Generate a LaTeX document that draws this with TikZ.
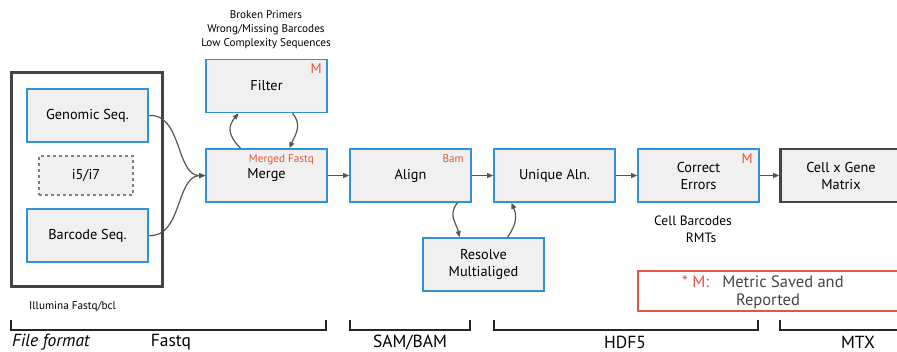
\documentclass[tikz,border=0pt]{standalone}
\usepackage{fontspec}
\setmainfont{PT Sans}
\usetikzlibrary{arrows.meta}
\definecolor{boxblue}{HTML}{2F93D6}
\definecolor{boxfill}{HTML}{F0F0F0}
\definecolor{mred}{HTML}{E8553E}
\definecolor{dk}{HTML}{444444}
\definecolor{arr}{HTML}{555555}
\begin{document}
\begin{tikzpicture}[x=1pt,y=-1pt,
  proc/.style={draw=boxblue, line width=1.6pt, fill=boxfill, minimum width=121pt, minimum height=53pt, inner sep=0pt, font=\fontsize{14.3}{17}\selectfont, align=center},
  final/.style={proc, draw=dk, line width=2.6pt},
  dashbox/.style={draw=gray, dashed, line width=1.1pt, fill=boxfill, minimum width=94pt, minimum height=39pt, inner sep=0pt, font=\fontsize{14.3}{16}\selectfont},
  conn/.style={draw=arr, line width=1.2pt, -{Triangle[length=6pt,width=5pt]}},
  redtag/.style={text=mred, inner sep=0pt, font=\fontsize{11.2}{13}\selectfont},
  mtag/.style={text=mred, inner sep=0pt, font=\fontsize{14}{15}\selectfont},
  note/.style={inner sep=0pt, align=center, font=\fontsize{11.2}{14}\selectfont},
  fmt/.style={inner sep=0pt, font=\fontsize{17.5}{20}\selectfont},
  brk/.style={draw=black!85, line width=2.6pt}
]
\useasboundingbox (0,0) rectangle (897,352);
\clip (0,0) rectangle (897,352);

% outer input box
\node[draw=dk, line width=3pt, minimum width=151pt, minimum height=214pt, inner sep=0pt] (outer) at (86.5,180) {};
\node[proc] (genomic) at (87.5,115.5) {Genomic Seq.};
\node[dashbox] (idx) at (86,175.5) {i5/i7};
\node[proc] (barcode) at (87.5,235.5) {Barcode Seq.};
\node[note, anchor=west] (illumina) at (29,307) {Illumina Fastq/bcl};

% processing boxes
\node[proc] (filter) at (266.5,86) {Filter};
\node[mtag, anchor=north east] (mfilter) at (322,64) {M};
\node[note] (filtnote) at (266,30) {Broken Primers\\Wrong/Missing Barcodes\\Low Complexity Sequences};

\node[proc] (merge) at (266.5,175.5) {Merge};
\node[redtag, anchor=north east] (mfastq) at (314,154) {Merged Fastq};

\node[proc] (align) at (410.5,175.5) {Align};
\node[redtag, anchor=north east] (bam) at (464,154) {Bam};

\node[proc] (unique) at (554.5,175.5) {Unique Aln.};
\node[proc] (resolve) at (483.5,264.5) {Resolve\\Multialiged};

\node[proc] (correct) at (698.5,175.5) {Correct\\Errors};
\node[mtag, anchor=north east] (mcorrect) at (753,154) {M};
\node[note, font=\fontsize{13.5}{17}\selectfont] (cbnote) at (693,229.5) {Cell Barcodes\\\hspace*{1.2em}RMTs};

\node[final] (matrix) at (841,175.5) {Cell x Gene\\Matrix};

% legend
\node[draw=mred, line width=1.2pt, minimum width=280pt, minimum height=40pt, inner sep=0pt] (legend) at (778,291) {};
\node[inner sep=0pt, anchor=west, font=\fontsize{16.5}{19}\selectfont] (legm) at (682,282) {\textcolor{mred}{* M:}\hspace{0.8em}\textcolor{dk}{Metric Saved and}};
\node[inner sep=0pt, font=\fontsize{16.5}{19}\selectfont, text=dk] (legr) at (768,301) {Reported};

% connectors
\draw[conn] (genomic.east) .. controls (182,113) and (176,176) .. (merge.west);
\draw[conn] (barcode.east) .. controls (182,238) and (176,176) .. (merge.west);
\draw[conn] (merge.east) -- (align.west);
\draw[conn] (align.east) -- (unique.west);
\draw[conn] (unique.east) -- (correct.west);
\draw[conn] (correct.east) -- (matrix.west);
\draw[conn] ([xshift=-26pt]merge.north) .. controls +(-14,-14) and +(-10,12) .. ([xshift=-28pt]filter.south);
\draw[conn] ([xshift=26pt]filter.south) .. controls +(10,12) and +(6,-14) .. ([xshift=23pt]merge.north);
\draw[conn] ([xshift=47pt]align.south) .. controls +(-10,12) and +(-3,-14) .. ([xshift=-24pt]resolve.north);
\draw[conn] ([xshift=24pt]resolve.north) .. controls +(10,-14) and +(5,12) .. ([xshift=-43pt]unique.south);

% format brackets
\draw[brk] (11,320) -- (11,330) -- (326,330) -- (326,320);
\draw[brk] (350,320) -- (350,330) -- (470,330) -- (470,320);
\draw[brk] (494,320) -- (494,330) -- (758,330) -- (758,320);
\draw[brk] (780,320) -- (780,330) -- (905,330) -- (905,320);
\node[fmt, anchor=west, font=\fontsize{17.5}{20}\selectfont\itshape] (ff) at (12,342) {File format};
\node[fmt] (fastq) at (171,342) {Fastq};
\node[fmt] (sam) at (410,342) {SAM/BAM};
\node[fmt] (hdf) at (625,342) {HDF5};
\node[fmt] (mtx) at (858,342) {MTX};
\end{tikzpicture}
\end{document}
